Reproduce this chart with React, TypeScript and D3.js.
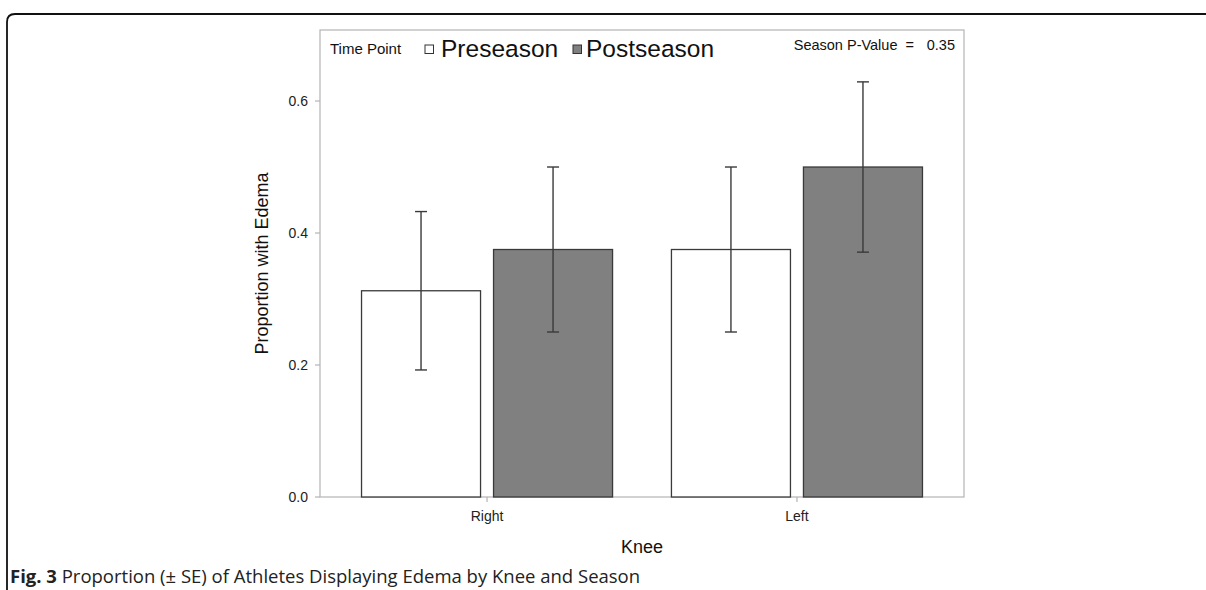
import React from "react";
import * as d3 from "d3";

const knees = ["Right", "Left"];
const seasons = ["Preseason", "Postseason"];
const preValues = [0.3125, 0.375];
const postValues = [0.375, 0.5];
const preSE = [0.12, 0.125];
const postSE = [0.125, 0.129];
const yTicks = [0.0, 0.2, 0.4, 0.6];
const seasonFills = ["#ffffff", "#808080"];
const pValueLabel = "Season P-Value  =";
const pValue = "0.35";

const W = 1206;
const H = 590;
const frame = { left: 320, right: 964, top: 30, bottom: 497 };

export default function App() {
  const y = d3.scaleLinear().domain([0, 0.7076]).range([frame.bottom, frame.top]);
  const x0 = d3
    .scaleBand<string>()
    .domain(knees)
    .range([frame.left, frame.right])
    .paddingInner(0.19)
    .paddingOuter(0.134);
  const x1 = d3
    .scaleBand<string>()
    .domain(seasons)
    .range([0, x0.bandwidth()])
    .paddingInner(0.0985)
    .paddingOuter(0);

  const series = [
    { name: seasons[0], values: preValues, se: preSE, fill: seasonFills[0] },
    { name: seasons[1], values: postValues, se: postSE, fill: seasonFills[1] },
  ];

  const font = "Liberation Sans, Arial, sans-serif";
  const capW = 6;

  return (
    <svg
      width={W}
      height={H}
      style={{ position: "absolute", left: 0, top: 0, background: "#fff" }}
    >
      {/* outer figure border */}
      <path
        d={`M7,590 L7,22 Q7,14 15,14 L1206,14`}
        fill="none"
        stroke="#111"
        strokeWidth={1.8}
      />
      {/* plot frame */}
      <rect
        x={frame.left}
        y={frame.top}
        width={frame.right - frame.left}
        height={frame.bottom - frame.top}
        fill="none"
        stroke="#b4b4b4"
        strokeWidth={1.2}
      />
      {/* y ticks */}
      {yTicks.map((t) => (
        <g key={t}>
          <line
            x1={frame.left - 5}
            x2={frame.left}
            y1={y(t)}
            y2={y(t)}
            stroke="#b4b4b4"
            strokeWidth={1.2}
          />
          <text
            x={frame.left - 12}
            y={y(t)}
            dy="0.36em"
            textAnchor="end"
            fontFamily={font}
            fontSize={14}
            fill="#222"
          >
            {t.toFixed(1)}
          </text>
        </g>
      ))}
      {/* x ticks */}
      {knees.map((k) => {
        const cx = (x0(k) as number) + x0.bandwidth() / 2;
        return (
          <g key={k}>
            <line
              x1={cx}
              x2={cx}
              y1={frame.bottom}
              y2={frame.bottom + 5}
              stroke="#b4b4b4"
              strokeWidth={1.2}
            />
            <text
              x={cx}
              y={frame.bottom + 24}
              textAnchor="middle"
              fontFamily={font}
              fontSize={14}
              fill="#222"
            >
              {k}
            </text>
          </g>
        );
      })}
      {/* bars */}
      {series.map((s) =>
        knees.map((k, i) => {
          const bx = (x0(k) as number) + (x1(s.name) as number);
          const bw = x1.bandwidth();
          const v = s.values[i];
          return (
            <rect
              key={s.name + k}
              x={bx}
              y={y(v)}
              width={bw}
              height={y(0) - y(v)}
              fill={s.fill}
              stroke="#3a3a3a"
              strokeWidth={1.3}
            />
          );
        })
      )}
      {/* error bars */}
      {series.map((s) =>
        knees.map((k, i) => {
          const cx = (x0(k) as number) + (x1(s.name) as number) + x1.bandwidth() / 2;
          const v = s.values[i];
          const lo = y(v - s.se[i]);
          const hi = y(v + s.se[i]);
          return (
            <g key={"e" + s.name + k} stroke="#3a3a3a" strokeWidth={1.4}>
              <line x1={cx} x2={cx} y1={lo} y2={hi} />
              <line x1={cx - capW} x2={cx + capW} y1={hi} y2={hi} />
              <line x1={cx - capW} x2={cx + capW} y1={lo} y2={lo} />
            </g>
          );
        })
      )}
      {/* legend */}
      <text x={330} y={54} fontFamily={font} fontSize={15} fill="#111">
        Time Point
      </text>
      <rect x={425} y={45} width={8.5} height={8.5} fill="#fff" stroke="#333" strokeWidth={1} />
      <text x={441} y={57} fontFamily={font} fontSize={24.5} fill="#111">
        {seasons[0]}
      </text>
      <rect x={573} y={45} width={8.5} height={8.5} fill="#808080" stroke="#333" strokeWidth={1} />
      <text x={586} y={57} fontFamily={font} fontSize={24.5} fill="#111">
        {seasons[1]}
      </text>
      <text x={914} y={50} textAnchor="end" fontFamily={font} fontSize={14.5} fill="#111" xmlSpace="preserve">
        {pValueLabel}
      </text>
      <text x={955} y={50} textAnchor="end" fontFamily={font} fontSize={14.5} fill="#111">
        {pValue}
      </text>
      {/* axis titles */}
      <text
        transform={`translate(268,${(frame.top + frame.bottom) / 2}) rotate(-90)`}
        textAnchor="middle"
        fontFamily={font}
        fontSize={18}
        fill="#111"
      >
        Proportion with Edema
      </text>
      <text
        x={(frame.left + frame.right) / 2}
        y={553}
        textAnchor="middle"
        fontFamily={font}
        fontSize={18}
        fill="#111"
      >
        Knee
      </text>
      {/* caption */}
      <text x={10} y={583} fontFamily="Open Sans, sans-serif" fontSize={18.5} fill="#222">
        <tspan fontWeight="bold">Fig. 3</tspan>
        <tspan> Proportion (± SE) of Athletes Displaying Edema by Knee and Season</tspan>
      </text>
    </svg>
  );
}
